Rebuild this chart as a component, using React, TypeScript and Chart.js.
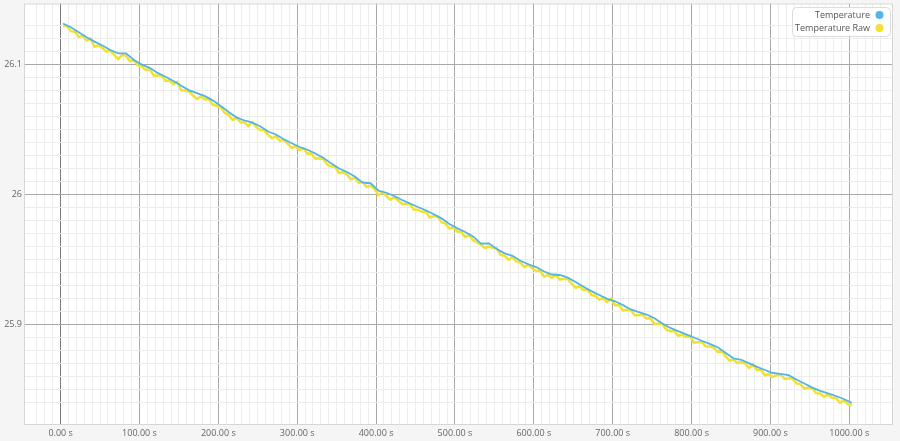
import React, { useEffect, useRef } from "react";
import { Chart, registerables } from "chart.js";

Chart.register(...registerables);

// time (s) of each Temperature sample
const tempTimes = [
  3, 13, 23, 33, 43, 53, 63, 73, 83, 93, 103, 113, 123, 133, 143, 153, 163, 173, 183, 193,
  203, 213, 223, 233, 243, 253, 263, 273, 283, 293, 303, 313, 323, 333, 343, 353, 363, 373, 383, 393,
  403, 413, 423, 433, 443, 453, 463, 473, 483, 493, 503, 513, 523, 533, 543, 553, 563, 573, 583, 593,
  603, 613, 623, 633, 643, 653, 663, 673, 683, 693, 703, 713, 723, 733, 743, 753, 763, 773, 783, 793,
  803, 813, 823, 833, 843, 853, 863, 873, 883, 893, 903, 913, 923, 933, 943, 953, 963, 973, 983, 993,
  1003,
];

const temperature = [
  26.1314, 26.1285, 26.1247, 26.1208, 26.1175, 26.1145, 26.111, 26.1085, 26.1085, 26.1033,
  26.0998, 26.0973, 26.0934, 26.0904, 26.0872, 26.0835, 26.08, 26.0778, 26.0755, 26.0723,
  26.0679, 26.0633, 26.0592, 26.0568, 26.0551, 26.0524, 26.0483, 26.046, 26.0423, 26.0393,
  26.0364, 26.0343, 26.0314, 26.0281, 26.0238, 26.0198, 26.0172, 26.0137, 26.0089, 26.0085,
  26.0028, 26.0012, 25.9987, 25.9956, 25.9929, 25.9902, 25.9877, 25.9846, 25.9815, 25.9772,
  25.9738, 25.971, 25.9676, 25.9621, 25.9623, 25.9579, 25.9546, 25.9527, 25.9489, 25.9462,
  25.944, 25.9406, 25.9383, 25.9379, 25.9359, 25.9325, 25.9288, 25.9255, 25.9225, 25.9196,
  25.9177, 25.9147, 25.9114, 25.9094, 25.9075, 25.9046, 25.9006, 25.8972, 25.8947, 25.8922,
  25.8898, 25.8873, 25.8849, 25.8823, 25.8781, 25.8738, 25.8727, 25.8699, 25.8672, 25.8648,
  25.8625, 25.8619, 25.8608, 25.8575, 25.8544, 25.8513, 25.8487, 25.8469, 25.8448, 25.8425,
  25.8395,
];

// raw samples, every 5 s starting at 3 s
const rawTimes = [
  3, 8, 13, 18, 23, 28, 33, 38, 43, 48, 53, 58, 63, 68, 73, 78, 83, 88, 93, 98,
  103, 108, 113, 118, 123, 128, 133, 138, 143, 148, 153, 158, 163, 168, 173, 178, 183, 188, 193, 198,
  203, 208, 213, 218, 223, 228, 233, 238, 243, 248, 253, 258, 263, 268, 273, 278, 283, 288, 293, 298,
  303, 308, 313, 318, 323, 328, 333, 338, 343, 348, 353, 358, 363, 368, 373, 378, 383, 388, 393, 398,
  403, 408, 413, 418, 423, 428, 433, 438, 443, 448, 453, 458, 463, 468, 473, 478, 483, 488, 493, 498,
  503, 508, 513, 518, 523, 528, 533, 538, 543, 548, 553, 558, 563, 568, 573, 578, 583, 588, 593, 598,
  603, 608, 613, 618, 623, 628, 633, 638, 643, 648, 653, 658, 663, 668, 673, 678, 683, 688, 693, 698,
  703, 708, 713, 718, 723, 728, 733, 738, 743, 748, 753, 758, 763, 768, 773, 778, 783, 788, 793, 798,
  803, 808, 813, 818, 823, 828, 833, 838, 843, 848, 853, 858, 863, 868, 873, 878, 883, 888, 893, 898,
  903, 908, 913, 918, 923, 928, 933, 938, 943, 948, 953, 958, 963, 968, 973, 978, 983, 988, 993, 998,
  1003,
];

const temperatureRaw = [
  26.1294, 26.1295, 26.1255, 26.1251, 26.1212, 26.1218, 26.1183, 26.1197, 26.1135, 26.1145,
  26.1125, 26.1098, 26.1105, 26.1073, 26.104, 26.1075, 26.1065, 26.1024, 26.1033, 26.0991,
  26.0983, 26.0956, 26.0963, 26.0914, 26.0914, 26.0914, 26.0874, 26.0873, 26.0847, 26.0864,
  26.08, 26.0798, 26.079, 26.0759, 26.0733, 26.0752, 26.073, 26.0734, 26.0688, 26.0681,
  26.0669, 26.0626, 26.0613, 26.0573, 26.0587, 26.0555, 26.0553, 26.0525, 26.0556, 26.0518,
  26.0494, 26.0494, 26.0458, 26.0432, 26.0445, 26.0412, 26.0418, 26.0388, 26.0358, 26.0369,
  26.0339, 26.0354, 26.0313, 26.0314, 26.0274, 26.0278, 26.0271, 26.023, 26.0213, 26.0213,
  26.0163, 26.017, 26.0152, 26.0115, 26.0127, 26.0088, 26.0094, 26.0057, 26.0065, 26.0042,
  25.9993, 26.0015, 25.9987, 25.996, 25.9977, 25.9952, 25.9926, 25.9928, 25.9924, 25.9881,
  25.9882, 25.9865, 25.9867, 25.9822, 25.9831, 25.9831, 25.9785, 25.9774, 25.9737, 25.9745,
  25.9713, 25.9709, 25.967, 25.9688, 25.9646, 25.9629, 25.9611, 25.9587, 25.9598, 25.9586,
  25.9584, 25.9533, 25.9526, 25.9497, 25.9517, 25.9483, 25.9474, 25.9441, 25.9457, 25.9431,
  25.941, 25.9413, 25.9366, 25.938, 25.9358, 25.9381, 25.9344, 25.9349, 25.9349, 25.9312,
  25.928, 25.9292, 25.9263, 25.9267, 25.9225, 25.922, 25.919, 25.9201, 25.9171, 25.9197,
  25.9147, 25.9147, 25.9107, 25.9111, 25.9109, 25.9069, 25.9069, 25.9075, 25.9045, 25.9046,
  25.9001, 25.9006, 25.9001, 25.8959, 25.8947, 25.895, 25.8912, 25.892, 25.8902, 25.891,
  25.8858, 25.8861, 25.8863, 25.8831, 25.8829, 25.8821, 25.8788, 25.8797, 25.8756, 25.872,
  25.8728, 25.8703, 25.8707, 25.8698, 25.8664, 25.8691, 25.8647, 25.865, 25.8608, 25.8617,
  25.8595, 25.8607, 25.8614, 25.8579, 25.8583, 25.8582, 25.8545, 25.854, 25.8504, 25.8514,
  25.8508, 25.847, 25.8467, 25.8443, 25.8459, 25.8434, 25.8433, 25.8397, 25.8415, 25.8385,
  25.8375,
];

const seriesNames = ["Temperature", "Temperature Raw"];
const seriesColors = ["#55b4e6", "#f2e22e"];

const FONT = "'Open Sans', 'Noto Sans', sans-serif";

const isMult = (v: number, step: number) => Math.abs(v / step - Math.round(v / step)) < 1e-6;

const plotPlugin = {
  id: "plotDecor",
  beforeDraw(chart: any) {
    const { ctx, chartArea } = chart;
    ctx.save();
    ctx.fillStyle = "#ffffff";
    ctx.fillRect(chartArea.left, chartArea.top, chartArea.right - chartArea.left, chartArea.bottom - chartArea.top);
    ctx.restore();
  },
  beforeDatasetsDraw(chart: any) {
    const { ctx, chartArea } = chart;
    ctx.save();
    ctx.strokeStyle = "#d6d6d6";
    ctx.lineWidth = 1;
    ctx.strokeRect(chartArea.left + 0.5, chartArea.top + 0.5, chartArea.right - chartArea.left - 1, chartArea.bottom - chartArea.top - 1);
    ctx.restore();
  },
  afterDraw(chart: any) {
    const { ctx, chartArea } = chart;
    const boxW = 98;
    const boxH = 29;
    const x = chartArea.right - 3 - boxW;
    const y = chartArea.top + 3.5;
    ctx.save();
    ctx.beginPath();
    ctx.roundRect(x + 0.5, y + 0.5, boxW, boxH, 4);
    ctx.fillStyle = "rgba(255,255,255,0.95)";
    ctx.fill();
    ctx.strokeStyle = "#dcdcdc";
    ctx.lineWidth = 1;
    ctx.stroke();
    ctx.font = `9px ${FONT}`;
    ctx.textAlign = "right";
    ctx.textBaseline = "middle";
    seriesNames.forEach((name, i) => {
      const cy = y + 8 + i * 13;
      ctx.fillStyle = "#555";
      ctx.fillText(name, x + boxW - 20, cy);
      ctx.beginPath();
      ctx.arc(x + boxW - 10.5, cy, 4, 0, Math.PI * 2);
      ctx.fillStyle = seriesColors[i];
      ctx.fill();
    });
    ctx.restore();
  },
};

const App: React.FC = () => {
  const chartRef = useRef<HTMLCanvasElement | null>(null);
  const chartInstanceRef = useRef<Chart | null>(null);

  useEffect(() => {
    document.body.style.margin = "0";
    if (!chartRef.current) return;

    if (chartInstanceRef.current) {
      chartInstanceRef.current.destroy();
    }

    const config: any = {
      type: "line",
      data: {
        datasets: [
          {
            label: seriesNames[0],
            data: tempTimes.map((t, i) => ({ x: t, y: temperature[i] })),
            borderColor: seriesColors[0],
            backgroundColor: seriesColors[0],
            borderWidth: 1.8,
            pointRadius: 0,
            tension: 0,
          },
          {
            label: seriesNames[1],
            data: rawTimes.map((t, i) => ({ x: t, y: temperatureRaw[i] })),
            borderColor: seriesColors[1],
            backgroundColor: seriesColors[1],
            borderWidth: 2.5,
            pointRadius: 0,
            tension: 0,
          },
        ],
      },
      options: {
        animation: false,
        responsive: true,
        maintainAspectRatio: false,
        layout: { padding: { top: 3.5, right: 7, left: 0, bottom: 0 } },
        plugins: {
          legend: { display: false },
          tooltip: { enabled: false },
        },
        scales: {
          x: {
            type: "linear",
            min: -46.4,
            max: 1055.4,
            afterFit: (scale: any) => {
              scale.height = 16;
              scale.paddingLeft = 0;
              scale.paddingRight = 0;
            },
            border: { display: false },
            grid: {
              drawTicks: false,
              color: (c: any) => {
                const v = c.tick?.value ?? 0;
                if (!isMult(v, 10)) return "rgba(0,0,0,0)";
                if (Math.abs(v) < 1e-6) return "#7a7a7a";
                return isMult(v, 100) ? "#a8a8a8" : "#ececec";
              },
            },
            ticks: {
              stepSize: 10,
              autoSkip: false,
              maxRotation: 0,
              padding: 3,
              color: "#666",
              font: { family: FONT, size: 9 },
              callback: (v: number) => (isMult(v, 100) ? `${v.toFixed(2)} s` : ""),
            },
          },
          y: {
            type: "linear",
            min: 25.8225,
            max: 26.1468,
            afterFit: (scale: any) => {
              scale.width = 24;
              scale.paddingTop = 0;
              scale.paddingBottom = 0;
            },
            border: { display: false },
            grid: {
              drawTicks: false,
              color: (c: any) => {
                const v = c.tick?.value ?? 0;
                if (!isMult(v, 0.01)) return "rgba(0,0,0,0)";
                return isMult(v, 0.1) ? "#a8a8a8" : "#ececec";
              },
            },
            ticks: {
              stepSize: 0.01,
              autoSkip: false,
              padding: 2,
              color: "#666",
              font: { family: FONT, size: 9 },
              callback: (v: number) => (isMult(v, 0.1) ? `${Number(v.toFixed(2))}` : ""),
            },
          },
        },
      },
      plugins: [plotPlugin],
    };

    chartInstanceRef.current = new Chart(chartRef.current, config);

    return () => {
      if (chartInstanceRef.current) {
        chartInstanceRef.current.destroy();
        chartInstanceRef.current = null;
      }
    };
  }, []);

  return (
    <div style={{ width: 900, height: 441, background: "#f5f5f5", position: "relative" }}>
      <canvas ref={chartRef} />
    </div>
  );
};

export default App;
